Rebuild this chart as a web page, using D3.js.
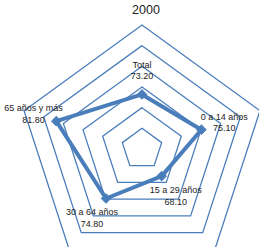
<!DOCTYPE html>
<html>
<head>
<meta charset="utf-8">
<script src="https://cdn.jsdelivr.net/npm/d3@7"></script>
<style>
  body { margin: 0; background: #fff; overflow: hidden; }
  text { font-family: "Liberation Sans", Arial, sans-serif; fill: #222; }
</style>
</head>
<body>
<div id="chart"></div>
<script>
var title = "2000";
var categories = ["Total", "0 a 14 años", "15 a 29 años", "30 a 64 años", "65 años y más"];
var values = [73.2, 75.1, 68.1, 74.8, 81.8];
var ringTicks = [65, 70, 75, 80, 85, 90];

var w = 259, h = 247;
var cx = 142, cy = 149; // center of the radar
var radius = 124;

var svg = d3.select("#chart")
    .append("svg")
    .attr("width", w)
    .attr("height", h);

var r = d3.scaleLinear()
    .domain([60, 90])
    .range([0, radius]);

var angle = d3.scalePoint()
    .domain(categories)
    .range([0, 2 * Math.PI * (categories.length - 1) / categories.length]);

function pt(cat, v) {
    var a = angle(cat);
    return [cx + r(v) * Math.sin(a), cy - r(v) * Math.cos(a)];
}

var line = d3.line().curve(d3.curveLinearClosed);

// grid rings
svg.selectAll(".ring")
    .data(ringTicks)
    .join("path")
    .attr("class", "ring")
    .attr("d", function (t) {
        return line(categories.map(function (c) { return pt(c, t); }));
    })
    .attr("fill", "none")
    .attr("stroke", "#4a7ebb")
    .attr("stroke-width", 1.3);

// data line
var pts = categories.map(function (c, i) { return pt(c, values[i]); });
svg.append("path")
    .attr("d", line(pts))
    .attr("fill", "none")
    .attr("stroke", "#4a7ebb")
    .attr("stroke-width", 4)
    .attr("stroke-linejoin", "round");

// markers
svg.selectAll(".mark")
    .data(pts)
    .join("path")
    .attr("class", "mark")
    .attr("transform", function (d) { return "translate(" + d[0] + "," + d[1] + ")"; })
    .attr("d", d3.symbol().type(d3.symbolDiamond2).size(60))
    .attr("fill", "#4a7ebb")
    .attr("stroke", "#4a7ebb");

// labels
var labels = svg.selectAll(".lbl")
    .data(categories)
    .join("g")
    .attr("class", "lbl")
    .attr("transform", function (c, i) {
        var a = angle(c);
        var p = pts[i];
        return "translate(" + (p[0] + 24 * Math.sin(a)) + "," + (p[1] - 24 * Math.cos(a)) + ")";
    });

labels.append("text")
    .attr("text-anchor", "middle")
    .attr("y", -2.5)
    .style("font-size", "9px")
    .text(function (c) { return c; });

labels.append("text")
    .attr("text-anchor", "middle")
    .attr("y", 9)
    .style("font-size", "9px")
    .text(function (c, i) { return values[i].toFixed(2); });

svg.append("text")
    .attr("x", 146)
    .attr("y", 14)
    .attr("text-anchor", "middle")
    .style("font-size", "12.5px")
    .text(title);
</script>
</body>
</html>
